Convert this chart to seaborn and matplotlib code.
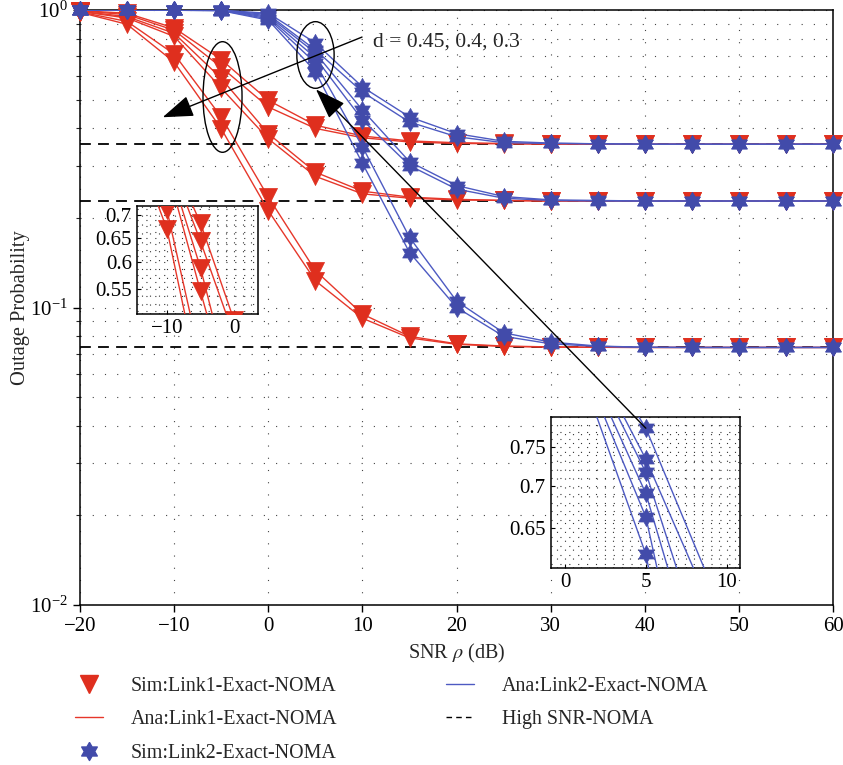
import numpy as np
import pandas as pd
import matplotlib
matplotlib.use("Agg")
import matplotlib.pyplot as plt
import seaborn as sns
from matplotlib.patches import Ellipse, ConnectionPatch
from matplotlib.lines import Line2D
from matplotlib.ticker import MultipleLocator, FixedLocator, LogLocator, NullFormatter, FuncFormatter

# ---------------- data ----------------
snr_db = [-20, -15, -10, -5, 0, 5, 10, 15, 20, 25, 30, 35, 40, 45, 50, 55, 60]

# Link 1 (red) curves
link1_hi_a = [0.995, 0.975, 0.870, 0.681, 0.497, 0.410, 0.377, 0.363, 0.358, 0.356, 0.355, 0.354, 0.354, 0.354, 0.354, 0.354, 0.354]
link1_hi_b = [0.993, 0.965, 0.855, 0.642, 0.472, 0.400, 0.372, 0.360, 0.356, 0.355, 0.354, 0.354, 0.354, 0.354, 0.354, 0.354, 0.354]
link1_mid_a = [0.990, 0.950, 0.835, 0.589, 0.384, 0.285, 0.246, 0.235, 0.231, 0.229, 0.228, 0.228, 0.228, 0.228, 0.228, 0.228, 0.228]
link1_mid_b = [0.988, 0.940, 0.815, 0.546, 0.369, 0.276, 0.241, 0.233, 0.230, 0.229, 0.228, 0.228, 0.228, 0.228, 0.228, 0.228, 0.228]
link1_lo_a = [0.985, 0.915, 0.711, 0.437, 0.235, 0.133, 0.095, 0.080, 0.0755, 0.0742, 0.0737, 0.0735, 0.0734, 0.0734, 0.0734, 0.0734, 0.0734]
link1_lo_b = [0.982, 0.895, 0.668, 0.399, 0.2115, 0.123, 0.092, 0.079, 0.0752, 0.0740, 0.0736, 0.0735, 0.0734, 0.0734, 0.0734, 0.0734, 0.0734]

# Link 2 (blue) curves
link2_hi_a = [0.999, 0.999, 0.999, 0.998, 0.975, 0.775, 0.551, 0.437, 0.384, 0.362, 0.357, 0.355, 0.354, 0.354, 0.354, 0.354, 0.354]
link2_hi_b = [0.999, 0.999, 0.999, 0.998, 0.965, 0.734, 0.530, 0.420, 0.375, 0.358, 0.356, 0.355, 0.354, 0.354, 0.354, 0.354, 0.354]
link2_mid_a = [0.999, 0.999, 0.999, 0.997, 0.955, 0.717, 0.461, 0.309, 0.257, 0.236, 0.230, 0.229, 0.228, 0.228, 0.228, 0.228, 0.228]
link2_mid_b = [0.999, 0.999, 0.998, 0.997, 0.945, 0.691, 0.427, 0.300, 0.250, 0.233, 0.229, 0.228, 0.228, 0.228, 0.228, 0.228, 0.228]
link2_lo_a = [0.999, 0.999, 0.998, 0.996, 0.935, 0.663, 0.347, 0.172, 0.105, 0.0822, 0.0765, 0.0742, 0.0735, 0.0734, 0.0734, 0.0734, 0.0734]
link2_lo_b = [0.999, 0.998, 0.998, 0.995, 0.925, 0.621, 0.305, 0.153, 0.100, 0.0800, 0.0755, 0.0740, 0.0735, 0.0734, 0.0734, 0.0734, 0.0734]

high_snr_floors = [0.354, 0.228, 0.0734]

legend_labels = ["Sim:Link1-Exact-NOMA", "Ana:Link1-Exact-NOMA", "Sim:Link2-Exact-NOMA",
                 "Ana:Link2-Exact-NOMA", "High SNR-NOMA"]
annot_text = "d = 0.45, 0.4, 0.3"

link1_sets = [link1_hi_a, link1_hi_b, link1_mid_a, link1_mid_b, link1_lo_a, link1_lo_b]
link2_sets = [link2_hi_a, link2_hi_b, link2_mid_a, link2_mid_b, link2_lo_a, link2_lo_b]

# ---------------- style ----------------
sns.set_style("ticks")
plt.rcParams['font.family'] = ['Liberation Serif', 'DejaVu Serif']
plt.rcParams['mathtext.fontset'] = 'stix'
plt.rcParams['axes.unicode_minus'] = True

RED = '#DF2F1E'
RED_LINE = '#E6372A'
BLUE = '#424BAA'
BLUE_LINE = '#4D5AC2'

ang_out = np.deg2rad(90 + 60 * np.arange(6))
ang_in = ang_out + np.deg2rad(30)
r_in = 1 / np.sqrt(3)
hexagram = []
for ao, ai in zip(ang_out, ang_in):
    hexagram.append((np.cos(ao), np.sin(ao)))
    hexagram.append((r_in * np.cos(ai), r_in * np.sin(ai)))
hexagram.append(hexagram[0])

MS = 13
S = MS ** 2

fig = plt.figure(figsize=(8.43, 7.65), dpi=100)
W, H = 843, 765
ax = fig.add_axes([80 / W, 1 - 605 / H, 753.3 / W, 595 / H])


def draw_curves(a, clip=True):
    for vals in link1_sets:
        sns.lineplot(x=snr_db, y=vals, ax=a, color=RED_LINE, linewidth=1.0,
                     estimator=None, sort=False, zorder=3, legend=False)
    for vals in link1_sets:
        sns.scatterplot(x=snr_db, y=vals, ax=a, marker='v', s=S, color=RED,
                        edgecolor=RED, linewidth=0.5, zorder=4, clip_on=clip, legend=False)
    for vals in link2_sets:
        sns.lineplot(x=snr_db, y=vals, ax=a, color=BLUE_LINE, linewidth=1.0,
                     estimator=None, sort=False, zorder=5, legend=False)
    for vals in link2_sets:
        sns.scatterplot(x=snr_db, y=vals, ax=a, marker=hexagram, s=S, color=BLUE,
                        edgecolor=BLUE, linewidth=0.5, zorder=6, clip_on=clip, legend=False)


# dashed high-SNR floors
for fl in high_snr_floors:
    sns.lineplot(x=[snr_db[0], snr_db[-1]], y=[fl, fl], ax=ax, color='black',
                 linewidth=1.3, linestyle=(0, (6, 4)), zorder=2, legend=False)
draw_curves(ax, clip=False)

ax.set_yscale('log')
ax.set_xlim(-20, 60)
ax.set_ylim(1e-2, 1)
ax.xaxis.set_major_locator(MultipleLocator(10))
ax.yaxis.set_major_locator(LogLocator(base=10, numticks=10))
ax.yaxis.set_minor_locator(LogLocator(base=10, subs=np.arange(2, 10), numticks=20))
ax.yaxis.set_minor_formatter(NullFormatter())
ax.set_axisbelow(True)
dot = (0, (1, 10))
ax.grid(True, which='major', axis='x', linestyle=dot, color='#444444', linewidth=0.8)
ax.grid(True, which='both', axis='y', linestyle=dot, color='#444444', linewidth=0.8)
for sp in ax.spines.values():
    sp.set_visible(True)
    sp.set_linewidth(1.1)
    sp.set_color('black')
ax.tick_params(axis='both', which='major', labelsize=15, length=5, width=1, direction='out', colors='black')
ax.tick_params(axis='y', which='minor', length=3, width=0.8, direction='out')
ax.set_xlabel("SNR $\\rho$ (dB)", fontsize=14.5)
ax.set_ylabel("Outage Probability", fontsize=14.7)
ax.xaxis.set_label_coords(0.5, -0.062)
ax.yaxis.set_label_coords(-0.066, 0.5)

# ellipses and annotations
ax.add_patch(Ellipse((0.1892, 0.8538), 0.0518, 0.1859, transform=ax.transAxes,
                     fill=False, edgecolor='black', linewidth=1.0, zorder=8))
ax.add_patch(Ellipse((0.3126, 0.9244), 0.0495, 0.112, transform=ax.transAxes,
                     fill=False, edgecolor='black', linewidth=1.0, zorder=8))
ax.text(11.1, 0.781, annot_text, fontsize=15.6, va='center', ha='left', zorder=9)
ax.annotate('', xy=(-11.22, 0.436), xytext=(9.95, 0.811),
            arrowprops=dict(arrowstyle='-|>,head_length=0.8,head_width=0.28',
                            mutation_scale=24, color='black', lw=1.0,
                            shrinkA=0, shrinkB=0), zorder=9)


def style_inset(a):
    a.set_yscale('log')
    a.set_facecolor('white')
    for sp in a.spines.values():
        sp.set_visible(True)
        sp.set_linewidth(1.1)
        sp.set_color('black')
    a.set_axisbelow(True)
    a.grid(True, which='both', linestyle=(0, (1, 7)), color='#333333', linewidth=0.8)
    a.tick_params(axis='both', which='major', labelsize=15, length=3, direction='in', colors='black')
    a.tick_params(axis='both', which='minor', length=0)
    a.yaxis.set_major_formatter(FuncFormatter(lambda v, p: '%g' % v))
    a.yaxis.set_minor_formatter(NullFormatter())
    a.set_xlabel('')
    a.set_ylabel('')


# inset 1 (Link 1 zoom)
ins1 = fig.add_axes([136.7 / W, 1 - 314.3 / H, 121.6 / W, 108.3 / H])
for vals in link1_sets:
    sns.lineplot(x=snr_db, y=vals, ax=ins1, color=RED_LINE, linewidth=1.0,
                 estimator=None, sort=False, zorder=3, legend=False)
for vals in link1_sets:
    sns.scatterplot(x=snr_db, y=vals, ax=ins1, marker='v', s=S, color=RED,
                    edgecolor=RED, linewidth=0.5, zorder=4, legend=False)
style_inset(ins1)
ins1.set_xlim(-14.5, 3.6)
ins1.set_ylim(0.507, 0.72)
ins1.xaxis.set_major_locator(FixedLocator([-10, 0]))
ins1.xaxis.set_minor_locator(MultipleLocator(1.25))
ins1.yaxis.set_major_locator(FixedLocator([0.55, 0.6, 0.65, 0.7]))
ins1.yaxis.set_minor_locator(MultipleLocator(0.0125))

# inset 2 (Link 2 zoom)
ins2 = fig.add_axes([550.7 / W, 1 - 567.7 / H, 189.3 / W, 150.4 / H])
for vals in link2_sets:
    sns.lineplot(x=snr_db, y=vals, ax=ins2, color=BLUE_LINE, linewidth=1.0,
                 estimator=None, sort=False, zorder=3, legend=False)
for vals in link2_sets:
    sns.scatterplot(x=snr_db, y=vals, ax=ins2, marker=hexagram, s=S, color=BLUE,
                    edgecolor=BLUE, linewidth=0.5, zorder=4, legend=False)
style_inset(ins2)
ins2.set_xlim(-0.88, 10.82)
ins2.set_ylim(0.6065, 0.79)
ins2.xaxis.set_major_locator(FixedLocator([0, 5, 10]))
ins2.xaxis.set_minor_locator(MultipleLocator(0.5))
ins2.yaxis.set_major_locator(FixedLocator([0.65, 0.7, 0.75]))
ins2.yaxis.set_minor_locator(MultipleLocator(0.01))

# arrow from inset 2 to the blue ellipse
con = ConnectionPatch(xyA=(5, 0.775), coordsA=ins2.transData,
                      xyB=(5.06, 0.541), coordsB=ax.transData,
                      arrowstyle='-|>,head_length=0.8,head_width=0.28',
                      mutation_scale=24, color='black', lw=1.0, shrinkA=0, shrinkB=0)
con.set_zorder(10)
fig.add_artist(con)

# legend
handles = [
    Line2D([], [], marker='v', color=RED, linestyle='none', markersize=MS),
    Line2D([], [], color=RED_LINE, linewidth=1.0),
    Line2D([], [], marker=hexagram, color=BLUE, linestyle='none', markersize=MS),
    Line2D([], [], color=BLUE_LINE, linewidth=1.0),
    Line2D([], [], color='black', linewidth=1.0, linestyle=(0, (4, 3))),
]
fig.legend(handles=handles, labels=legend_labels, loc='upper left',
           bbox_to_anchor=(75 / W, 1 - 677 / H), ncol=2, frameon=False, fontsize=14.4,
           handlelength=1.4, handletextpad=1.4, columnspacing=5.4, labelspacing=0.72,
           borderpad=0, borderaxespad=0)

fig.savefig('out.png', dpi=100)
